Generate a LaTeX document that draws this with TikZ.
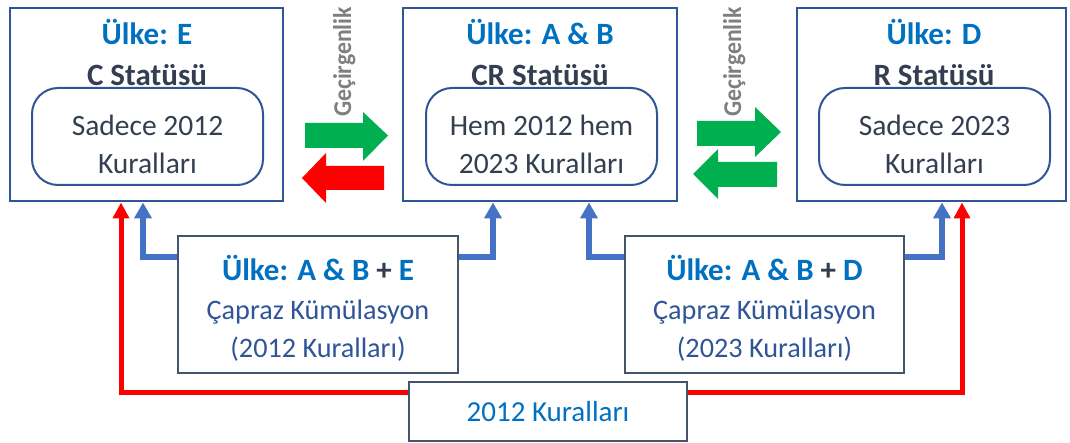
\documentclass[tikz,border=0pt]{standalone}
\usepackage{fontspec}
\setmainfont{Carlito}
\usetikzlibrary{arrows.meta,calc}
\definecolor{hdrblue}{HTML}{0070C0}
\definecolor{boxblue}{HTML}{2F5597}
\definecolor{darktxt}{HTML}{333F50}
\definecolor{lowbox}{HTML}{44546A}
\definecolor{linkblue}{HTML}{4472C4}
\definecolor{linkred}{HTML}{FF0000}
\definecolor{arrgreen}{HTML}{00B050}
\definecolor{graytxt}{HTML}{7F7F7F}
\tikzset{
  outerbox/.style={draw=boxblue,line width=2pt,minimum width=273pt,minimum height=193pt,inner sep=0pt},
  innerbox/.style={draw=boxblue,line width=2pt,rounded corners=26pt,minimum width=231pt,minimum height=97pt,inner sep=0pt},
  lowerbox/.style={draw=lowbox,line width=1.5pt,fill=white,inner sep=0pt},
  hdr/.style={font=\fontsize{31}{36}\selectfont\bfseries,text=hdrblue},
  stat/.style={font=\fontsize{31}{36}\selectfont\bfseries,text=darktxt},
  inner/.style={font=\fontsize{29.5}{38}\selectfont,text=darktxt,align=center},
  lowtxt/.style={font=\fontsize{28.2}{38.5}\selectfont,text=boxblue,align=center},
  perm/.style={font=\fontsize{27}{30}\selectfont\bfseries,text=graytxt,rotate=90,anchor=base,inner sep=0pt},
  bl/.style={draw=linkblue,line width=5.5pt,-{Triangle[width=17pt,length=16pt]}},
  rl/.style={draw=linkred,line width=5pt,-{Triangle[width=16pt,length=16pt]}},
}
\begin{document}
\begin{tikzpicture}[x=1pt,y=-1pt]
\useasboundingbox (0,0) rectangle (1070,443);
% outer boxes
\node[outerbox,minimum width=273pt] (box1) at (146.5,105) {};
\node[outerbox,minimum width=274pt] (box2) at (540,105) {};
\node[outerbox,minimum width=269pt] (box3) at (931.5,105) {};
\node[innerbox] (in1) at (147.5,136.5) {};
\node[innerbox] (in2) at (541.5,136.5) {};
\node[innerbox] (in3) at (934.5,136.5) {};
% headers
\node[hdr] (h1) at (147,32) {Ülke: E};
\node[stat] (s1) at (147,75) {C Statüsü};
\node[hdr] (h2) at (540,32) {Ülke: A \& B};
\node[stat] (s2) at (540,75) {CR Statüsü};
\node[hdr] (h3) at (934,32) {Ülke: D};
\node[stat] (s3) at (934,75) {R Statüsü};
\node[inner] (i1) at (147.5,144) {Sadece 2012\\Kuralları};
\node[inner] (i2) at (541.5,144) {Hem 2012 hem\\2023 Kuralları};
\node[inner] (i3) at (934.5,144) {Sadece 2023\\Kuralları};
% block arrows
\fill[arrgreen] (305,123) -- (363,123) -- (363,112) -- (388,135.5) -- (363,161) -- (363,148) -- (305,148) -- cycle;
\fill[linkred] (384,166) -- (326,166) -- (326,153) -- (302,178) -- (326,203) -- (326,190) -- (384,190) -- cycle;
\fill[arrgreen] (697,121) -- (755,121) -- (755,107) -- (781,132) -- (755,157) -- (755,146) -- (697,146) -- cycle;
\fill[arrgreen] (777,162) -- (718,162) -- (718,149) -- (693,174) -- (718,199) -- (718,187) -- (777,187) -- cycle;
\node[perm] (p1) at (351,62) {\resizebox{110pt}{18pt}{Geçirgenlik}};
\node[perm] (p2) at (741,62) {\resizebox{110pt}{18pt}{Geçirgenlik}};
% lower boxes
\node[lowerbox,minimum width=280pt,minimum height=137pt] (box4) at (318,304.5) {};
\node[lowerbox,minimum width=279pt,minimum height=137pt] (box5) at (764.5,304.5) {};
% connectors
\draw[bl] (box4.west |- 0,257) -| (box1.south -| 143,0);
\draw[bl] (box4.east |- 0,257) -| (box2.south -| 493,0);
\draw[bl] (box5.west |- 0,257) -| (box2.south -| 589,0);
\draw[bl] (box5.east |- 0,257) -| (box3.south -| 942,0);
\node[lowerbox,minimum width=278pt,minimum height=59pt] (box6) at (548,411.5) {};
\draw[rl] (box6.west |- 0,392) -| (box1.south -| 121,0);
\draw[rl] (box6.east |- 0,392) -| (box3.south -| 962,0);
\node[lowerbox,minimum width=278pt,minimum height=59pt] at (box6) {};
% lower texts
\node[lowtxt] (l4) at (318,308.5) {{\fontsize{31}{38.5}\selectfont\bfseries\color{hdrblue}Ülke: A \& B {\color{darktxt}+} E}\\Çapraz Kümülasyon\\(2012 Kuralları)};
\node[lowtxt] (l5) at (764.5,308.5) {{\fontsize{31}{38.5}\selectfont\bfseries\color{hdrblue}Ülke: A \& B {\color{darktxt}+} D}\\Çapraz Kümülasyon\\(2023 Kuralları)};
\node[lowtxt,text=hdrblue,font=\fontsize{29}{34}\selectfont] (l6) at (548,412) {2012 Kuralları};
\end{tikzpicture}
\end{document}
